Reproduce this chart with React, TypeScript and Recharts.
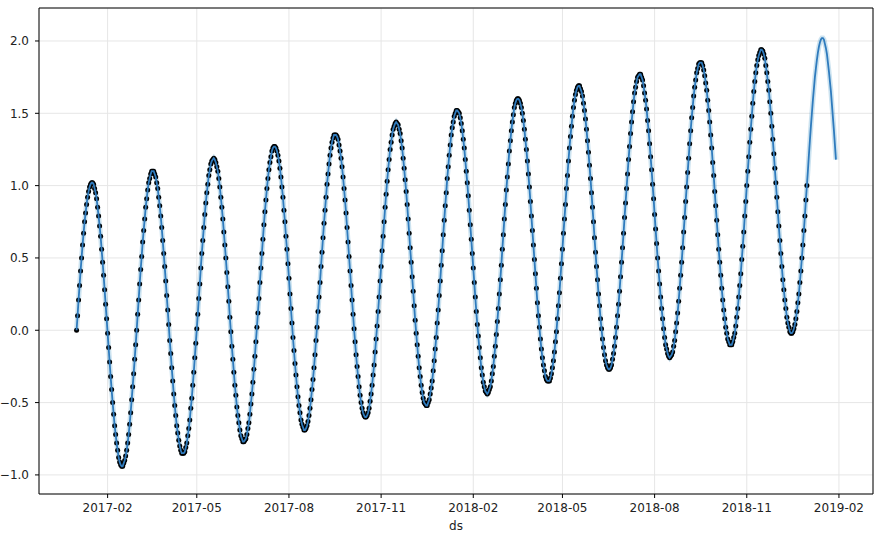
import {
  ComposedChart,
  Line,
  XAxis,
  YAxis,
  CartesianGrid,
  ReferenceArea,
} from "recharts";

// daily observations, first day = 2017-01-01
const y2017 = [
  0.0, 0.1, 0.21, 0.31, 0.41, 0.5, 0.59, 0.67, 0.75, 0.81,
  0.87, 0.92, 0.96, 0.99, 1.01, 1.02, 1.02, 1.01, 0.98, 0.95,
  0.91, 0.85, 0.79, 0.72, 0.65, 0.56, 0.47, 0.38, 0.28, 0.18,
  0.08, -0.02, -0.12, -0.22, -0.32, -0.41, -0.5, -0.58, -0.66, -0.72,
  -0.78, -0.83, -0.88, -0.91, -0.93, -0.94, -0.94, -0.92, -0.9, -0.87,
  -0.83, -0.78, -0.72, -0.65, -0.57, -0.48, -0.39, -0.3, -0.2, -0.1,
  0.0, 0.11, 0.21, 0.32, 0.42, 0.51, 0.61, 0.69, 0.77, 0.85,
  0.91, 0.97, 1.02, 1.05, 1.08, 1.1, 1.1, 1.1, 1.08, 1.06,
  1.02, 0.98, 0.92, 0.86, 0.79, 0.71, 0.62, 0.53, 0.44, 0.34,
  0.24, 0.14, 0.04, -0.07, -0.16, -0.26, -0.35, -0.44, -0.52, -0.59,
  -0.66, -0.71, -0.76, -0.8, -0.83, -0.85, -0.85, -0.85, -0.84, -0.81,
  -0.78, -0.73, -0.68, -0.62, -0.54, -0.47, -0.38, -0.29, -0.19, -0.09,
  0.01, 0.11, 0.22, 0.32, 0.43, 0.53, 0.62, 0.71, 0.8, 0.88,
  0.95, 1.01, 1.07, 1.11, 1.15, 1.17, 1.18, 1.19, 1.18, 1.16,
  1.13, 1.1, 1.05, 0.99, 0.92, 0.85, 0.77, 0.68, 0.59, 0.5,
  0.4, 0.3, 0.2, 0.09, -0.01, -0.11, -0.2, -0.29, -0.38, -0.45,
  -0.53, -0.59, -0.64, -0.69, -0.73, -0.75, -0.77, -0.77, -0.76, -0.75,
  -0.72, -0.68, -0.64, -0.58, -0.51, -0.44, -0.36, -0.27, -0.18, -0.08,
  0.02, 0.12, 0.22, 0.33, 0.43, 0.53, 0.63, 0.73, 0.82, 0.9,
  0.98, 1.05, 1.11, 1.16, 1.2, 1.24, 1.26, 1.27, 1.27, 1.26,
  1.24, 1.21, 1.17, 1.12, 1.06, 0.99, 0.92, 0.83, 0.75, 0.65,
  0.56, 0.46, 0.36, 0.25, 0.15, 0.05, -0.05, -0.14, -0.23, -0.31,
  -0.39, -0.46, -0.52, -0.57, -0.62, -0.65, -0.67, -0.69, -0.69, -0.68,
  -0.66, -0.63, -0.59, -0.54, -0.48, -0.41, -0.34, -0.26, -0.17, -0.07,
  0.02, 0.13, 0.23,
  0.33, 0.44, 0.54, 0.64, 0.74, 0.83, 0.92, 1.01, 1.08, 1.15,
  1.21, 1.26, 1.3, 1.33, 1.35, 1.35, 1.35, 1.34, 1.32, 1.28,
  1.24, 1.19, 1.13, 1.06, 0.98, 0.9, 0.81, 0.71, 0.61, 0.51,
  0.41, 0.31, 0.21, 0.11, 0.01, -0.08, -0.17, -0.25, -0.32, -0.39,
  -0.45, -0.5, -0.54, -0.57, -0.59, -0.6, -0.6, -0.59, -0.57, -0.54,
  -0.49, -0.44, -0.38, -0.31, -0.24, -0.15, -0.06, 0.03, 0.13, 0.23,
  0.34, 0.44, 0.55, 0.65, 0.75, 0.85, 0.94, 1.03, 1.11, 1.18,
  1.25, 1.3, 1.35, 1.39, 1.41, 1.43, 1.44, 1.43, 1.42, 1.39,
  1.36, 1.31, 1.26, 1.19, 1.12, 1.04, 0.96, 0.87, 0.77, 0.67,
  0.57, 0.47, 0.37, 0.27, 0.17, 0.07, -0.02, -0.1, -0.18, -0.26,
  -0.32, -0.38, -0.43, -0.47, -0.5, -0.51, -0.52, -0.52, -0.5, -0.48,
  -0.44, -0.4, -0.35, -0.28, -0.21, -0.13, -0.05, 0.05, 0.14, 0.24,
  0.34, 0.45,
];

const y2018 = [
  0.55, 0.66, 0.76, 0.86, 0.95, 1.05, 1.13, 1.21,
  1.28, 1.35, 1.4, 1.44, 1.48, 1.5, 1.52, 1.52, 1.51, 1.5,
  1.47, 1.43, 1.38, 1.32, 1.26, 1.18, 1.1, 1.02, 0.93, 0.83,
  0.73, 0.63, 0.53, 0.43, 0.33, 0.23, 0.13, 0.04, -0.04, -0.12,
  -0.19, -0.26, -0.31, -0.36, -0.39, -0.42, -0.43, -0.44, -0.43, -0.41,
  -0.39, -0.35, -0.3, -0.25, -0.18, -0.11, -0.03, 0.06, 0.15, 0.25,
  0.35, 0.45, 0.56, 0.66, 0.77, 0.87, 0.97, 1.06, 1.15, 1.24,
  1.31, 1.38, 1.44, 1.49, 1.54, 1.57, 1.59, 1.6, 1.6, 1.59,
  1.57, 1.54, 1.5, 1.45, 1.39, 1.32, 1.25, 1.17, 1.08, 0.99,
  0.89, 0.79, 0.69, 0.59, 0.49, 0.39, 0.29, 0.19, 0.1, 0.02,
  -0.06, -0.13, -0.19, -0.24, -0.28, -0.32, -0.34, -0.35, -0.35, -0.35,
  -0.33, -0.3, -0.26, -0.21, -0.15, -0.08, -0.01, 0.08, 0.17, 0.26,
  0.36, 0.46, 0.56,
  0.67, 0.77, 0.87, 0.98, 1.07, 1.17, 1.26, 1.34, 1.41, 1.48,
  1.54, 1.59, 1.63, 1.66, 1.68, 1.69, 1.69, 1.67, 1.65, 1.62,
  1.57, 1.52, 1.46, 1.39, 1.31, 1.23, 1.14, 1.05, 0.95, 0.85,
  0.75, 0.64, 0.54, 0.44, 0.35, 0.25, 0.17, 0.08, 0.01, -0.06,
  -0.12, -0.17, -0.21, -0.24, -0.26, -0.27, -0.27, -0.26, -0.24, -0.2,
  -0.16, -0.11, -0.05, 0.02, 0.1, 0.18, 0.27, 0.37, 0.47, 0.57,
  0.67, 0.78, 0.88, 0.98, 1.08, 1.18, 1.27, 1.36, 1.44, 1.51,
  1.58, 1.64, 1.68, 1.72, 1.75, 1.76, 1.77, 1.77, 1.75, 1.73,
  1.69, 1.64, 1.59, 1.53, 1.45, 1.38, 1.29, 1.2, 1.11, 1.01,
  0.91, 0.8, 0.7, 0.6, 0.5, 0.41, 0.32, 0.23, 0.15, 0.08,
  0.01, -0.05, -0.1, -0.13, -0.16, -0.18, -0.19, -0.18, -0.17, -0.15,
  -0.11, -0.07, -0.01, 0.05, 0.12, 0.2, 0.29, 0.38, 0.47, 0.57,
  0.68, 0.78, 0.89, 0.99, 1.09, 1.19, 1.29, 1.38, 1.47, 1.54,
  1.62, 1.68, 1.73, 1.78, 1.81, 1.84, 1.85, 1.85, 1.85, 1.83,
  1.8, 1.76, 1.71, 1.66, 1.59, 1.52, 1.44, 1.35, 1.26, 1.16,
  1.07, 0.96, 0.86, 0.76, 0.66, 0.56, 0.47, 0.38, 0.29, 0.21,
  0.14, 0.08, 0.02, -0.02, -0.06, -0.08, -0.1, -0.1, -0.1, -0.08,
  -0.05, -0.02, 0.03, 0.09, 0.15, 0.23, 0.31, 0.39, 0.49, 0.58,
  0.68, 0.79, 0.89, 1.0, 1.1, 1.2, 1.3, 1.39, 1.48, 1.57,
  1.65, 1.72, 1.78, 1.83, 1.87, 1.9, 1.92, 1.94, 1.94, 1.93,
  1.91, 1.88, 1.83, 1.78, 1.72, 1.66, 1.58, 1.5, 1.41, 1.32,
  1.22, 1.12, 1.02, 0.92, 0.82, 0.72, 0.62, 0.53, 0.44, 0.35,
  0.28, 0.21, 0.15, 0.09, 0.05, 0.02, -0.01, -0.02, -0.02, -0.01,
  0.01, 0.04, 0.08, 0.13, 0.19, 0.25, 0.33, 0.41, 0.5, 0.59,
  0.69, 0.79, 0.9, 1.0,
];

// forecast beyond the last observation (2019-01-01 onward)
const forecast2019 = [
  1.1, 1.21, 1.31, 1.41, 1.5, 1.59, 1.67, 1.75, 1.81, 1.87,
  1.92, 1.96, 1.99, 2.01, 2.02, 2.02, 2.01, 1.98, 1.95, 1.91,
  1.85, 1.79, 1.72, 1.65, 1.56, 1.47, 1.38, 1.28, 1.18,
];

const xTickLabels = [
  "2017-02", "2017-05", "2017-08", "2017-11",
  "2018-02", "2018-05", "2018-08", "2018-11", "2019-02",
];
const yTicks = [-1.0, -0.5, 0.0, 0.5, 1.0, 1.5, 2.0];

const START = Date.UTC(2017, 0, 1);
const DAY = 86400000;

function dayOf(label: string) {
  const [yy, mm] = label.split("-").map(Number);
  return (Date.UTC(yy, mm - 1, 1) - START) / DAY;
}

const xTicks = xTickLabels.map(dayOf);
const tickName: Record<number, string> = {};
xTickLabels.forEach((l, i) => (tickName[xTicks[i]] = l));

const observed = [...y2017, ...y2018];
const history = observed.map((v, t) => ({ t, v }));
const fitted = [...observed, ...forecast2019].map((v, t) => ({ t, v }));

const X_DOMAIN: [number, number] = [-37.5, 795];
const Y_DOMAIN: [number, number] = [-1.132, 2.228];
const W = 880;
const H = 538;
const MARGIN = { top: 8, right: 7, bottom: 0, left: 0 };

const tickStyle = { fill: "#222", fontSize: 12, fontFamily: "DejaVu Sans" };
const layer = { position: "absolute" as const, left: 0, top: 0 };

// both layers share the same axes so the fit can sit on top of the points
function Axes({ hidden }: { hidden?: boolean }) {
  return (
    <>
      <XAxis
        type="number"
        dataKey="t"
        domain={X_DOMAIN}
        allowDataOverflow
        ticks={xTicks}
        tickFormatter={(v: number) => tickName[v] ?? ""}
        height={44}
        tickSize={4}
        tickMargin={5}
        axisLine={false}
        tickLine={hidden ? false : { stroke: "#000" }}
        tick={hidden ? false : tickStyle}
        label={hidden ? undefined : { value: "ds", position: "insideBottom", offset: 8, style: tickStyle }}
      />
      <YAxis
        type="number"
        dataKey="v"
        domain={Y_DOMAIN}
        allowDataOverflow
        ticks={yTicks}
        tickFormatter={(v: number) => v.toFixed(1).replace("-", "\u2212")}
        width={39}
        tickSize={4}
        tickMargin={6}
        axisLine={false}
        tickLine={hidden ? false : { stroke: "#000" }}
        tick={hidden ? false : tickStyle}
      />
    </>
  );
}

export default function App() {
  return (
    <div style={{ position: "fixed", left: 0, top: 0, width: W, height: H, background: "#fff" }}>
      <div style={layer}>
        <ComposedChart width={W} height={H} margin={MARGIN}>
          <CartesianGrid stroke="#e6e6e6" strokeWidth={1} />
          {Axes({})}
          {/* faint uncertainty halo */}
          <Line
            data={fitted}
            dataKey="v"
            type="linear"
            stroke="rgba(0,114,178,0.2)"
            strokeWidth={5}
            dot={false}
            activeDot={false}
            isAnimationActive={false}
          />
          {/* observed points */}
          <Line
            data={history}
            dataKey="v"
            stroke="none"
            dot={{ r: 2.5, fill: "#000", stroke: "none" }}
            activeDot={false}
            isAnimationActive={false}
          />
          <ReferenceArea
            x1={X_DOMAIN[0]}
            x2={X_DOMAIN[1]}
            y1={Y_DOMAIN[0]}
            y2={Y_DOMAIN[1]}
            fill="none"
            stroke="#000"
            strokeWidth={1}
          />
        </ComposedChart>
      </div>
      <div style={layer}>
        <ComposedChart width={W} height={H} margin={MARGIN}>
          {Axes({ hidden: true })}
          {/* fitted line */}
          <Line
            data={fitted}
            dataKey="v"
            type="linear"
            stroke="#2f7bbd"
            strokeWidth={1.8}
            dot={false}
            activeDot={false}
            isAnimationActive={false}
          />
        </ComposedChart>
      </div>
    </div>
  );
}
